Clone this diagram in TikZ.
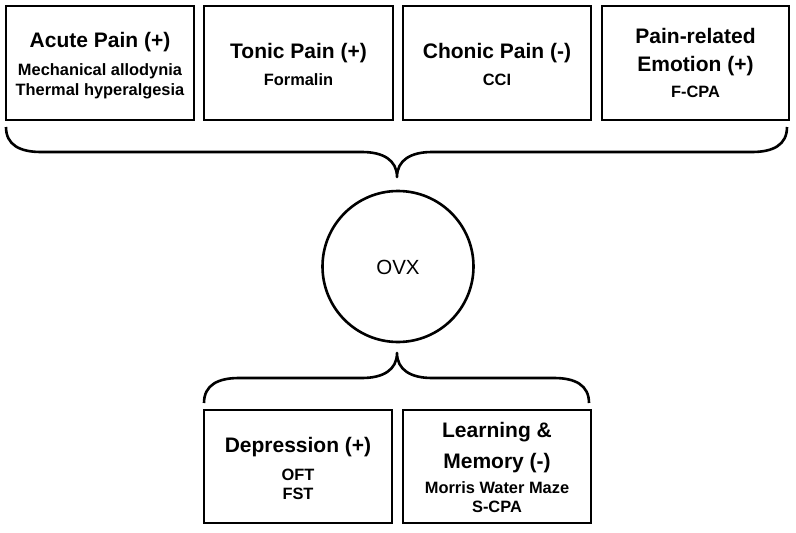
\documentclass[tikz,border=0pt]{standalone}
\usepackage{fontspec}
\setmainfont{Liberation Sans}
\begin{document}
\begin{tikzpicture}[x=1pt,y=-1pt,
  box/.style={draw=black,line width=2.8pt,rectangle,inner sep=0pt,minimum width=#1,minimum height=114pt},
  ttl/.style={anchor=base,inner sep=0pt,font=\fontsize{21}{24}\selectfont\bfseries},
  sub/.style={anchor=base,inner sep=0pt,font=\fontsize{16.4}{19}\selectfont\bfseries},
  brace/.style={draw=black,line width=2.6pt,line join=round},
  ovxc/.style={draw=black,circle,line width=2.6pt,minimum size=151pt,inner sep=0pt}]
\useasboundingbox[fill=white] (0,0) rectangle (796,533);
% top boxes
\node[box=188pt] (b1) at (100,63) {};
\node[box=189pt] (b2) at (298.5,63) {};
\node[box=188pt] (b3) at (497,63) {};
\node[box=187pt] (b4) at (695.5,63) {};
\node[ttl] (t1) at (100,47) {Acute Pain (+)};
\node[sub] (s1a) at (100,75) {Mechanical allodynia};
\node[sub] (s1b) at (100,95) {Thermal hyperalgesia};
\node[ttl] (t2) at (298.5,58) {Tonic Pain (+)};
\node[sub] (s2) at (298.5,85) {Formalin};
\node[ttl] (t3) at (497,58) {Chonic Pain (-)};
\node[sub] (s3) at (497,85) {CCI};
\node[ttl] (t4a) at (695.5,43) {Pain-related};
\node[ttl] (t4b) at (695.5,71) {Emotion (+)};
\node[sub] (s4) at (695.5,97) {F-CPA};
% top brace
\coordinate (tbL) at (6,127);
\coordinate (tbR) at (787,127);
\coordinate (tbT) at (397,177);
\draw[brace] (tbL) .. controls (6,145) and (20,152) .. (41,152) -- (362,152)
  .. controls (383,152) and (397,160) .. (tbT)
  .. controls (397,160) and (411,152) .. (432,152) -- (752,152)
  .. controls (773,152) and (787,145) .. (tbR);
% circle
\node[ovxc] (ovx) at (398,266.5) {};
\node[anchor=base,inner sep=0pt,font=\fontsize{20.5}{24}\selectfont] (ovxt) at (398,274) {OVX};
% bottom brace
\coordinate (bbL) at (204,403);
\coordinate (bbR) at (589,403);
\coordinate (bbT) at (397,353);
\draw[brace] (bbL) .. controls (204,385) and (218,378) .. (239,378) -- (362,378)
  .. controls (383,378) and (397,370) .. (bbT)
  .. controls (397,370) and (411,378) .. (432,378) -- (554,378)
  .. controls (575,378) and (589,385) .. (bbR);
% bottom boxes
\node[box=188pt,minimum height=113pt] (b5) at (298,466.5) {};
\node[box=188pt,minimum height=113pt] (b6) at (497,466.5) {};
\node[ttl] (t5) at (298,452) {Depression (+)};
\node[sub] (s5a) at (298,480) {OFT};
\node[sub] (s5b) at (298,499) {FST};
\node[ttl] (t6a) at (497,437) {Learning \&};
\node[ttl] (t6b) at (497,468) {Memory (-)};
\node[sub] (s6a) at (497,493) {Morris Water Maze};
\node[sub] (s6b) at (497,512) {S-CPA};
\end{tikzpicture}
\end{document}
